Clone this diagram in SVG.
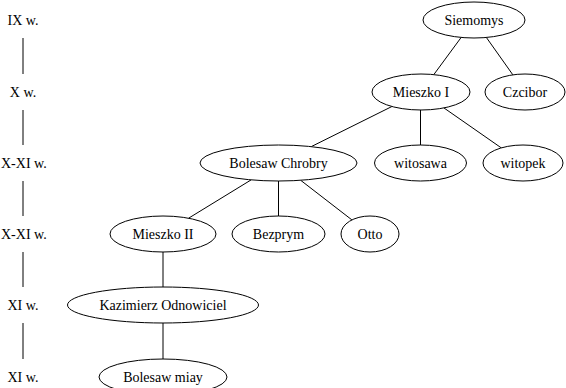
<svg xmlns="http://www.w3.org/2000/svg" width="566" height="388" viewBox="0 0 566 388">
<style>
text{font-family:"Liberation Serif","Times New Roman",serif;font-size:14px;fill:#000;text-anchor:middle}
ellipse{fill:#fff;stroke:#000;stroke-width:1}
line{stroke:#000;stroke-width:1}
</style>
<rect width="566" height="388" fill="#fff"/>
<g id="connectors">
<line x1="23" y1="38" x2="23" y2="74"/>
<line x1="23" y1="110" x2="23" y2="145"/>
<line x1="23" y1="181" x2="23" y2="216"/>
<line x1="23" y1="252" x2="23" y2="287"/>
<line x1="23" y1="323" x2="23" y2="359"/>
<line x1="461.2" y1="37.4" x2="433.8" y2="74.6"/>
<line x1="486.4" y1="37.5" x2="512.9" y2="74.9"/>
<line x1="420.5" y1="110" x2="420.5" y2="145"/>
<line x1="443.9" y1="107.9" x2="501.3" y2="147.9"/>
<line x1="391.9" y1="106.5" x2="311.3" y2="146.6"/>
<line x1="251.1" y1="179.9" x2="188.6" y2="218.2"/>
<line x1="278.5" y1="181" x2="278.5" y2="216"/>
<line x1="300.7" y1="180.3" x2="351.9" y2="219.9"/>
<line x1="163" y1="252" x2="163" y2="287"/>
<line x1="163" y1="323" x2="163" y2="359"/>
</g>
<g id="rank-labels">
<text x="23" y="25">IX w.</text>
<text x="23" y="97">X w.</text>
<text x="1" y="168" style="text-anchor:start">X-XI w.</text>
<text x="1" y="239" style="text-anchor:start">X-XI w.</text>
<text x="23" y="310">XI w.</text>
<text x="23" y="382">XI w.</text>
</g>
<g id="siemomys"><ellipse cx="474" cy="20" rx="51" ry="18"/><text x="474" y="25">Siemomys</text></g>
<g id="mieszko1"><ellipse cx="421" cy="92" rx="49" ry="18"/><text x="421" y="97">Mieszko I</text></g>
<g id="czcibor"><ellipse cx="525" cy="92" rx="40" ry="18"/><text x="525" y="97">Czcibor</text></g>
<g id="boleslaw-chrobry"><ellipse cx="278.5" cy="163" rx="78.5" ry="18"/><text x="278.5" y="168">Bolesaw Chrobry</text></g>
<g id="witoslawa"><ellipse cx="420.5" cy="163" rx="46" ry="18"/><text x="420.5" y="168">witosawa</text></g>
<g id="witopek"><ellipse cx="523" cy="163" rx="40" ry="18"/><text x="523" y="168">witopek</text></g>
<g id="mieszko2"><ellipse cx="163" cy="234" rx="53" ry="18"/><text x="163" y="239">Mieszko II</text></g>
<g id="bezprym"><ellipse cx="278.5" cy="234" rx="46.5" ry="18"/><text x="278.5" y="239">Bezprym</text></g>
<g id="otto"><ellipse cx="370" cy="234" rx="29" ry="18"/><text x="370" y="239">Otto</text></g>
<g id="kazimierz"><ellipse cx="163" cy="305" rx="95.5" ry="18"/><text x="163" y="310">Kazimierz Odnowiciel</text></g>
<g id="boleslaw-smialy"><ellipse cx="163" cy="377" rx="64" ry="18"/><text x="163" y="382">Bolesaw miay</text></g>
</svg>
